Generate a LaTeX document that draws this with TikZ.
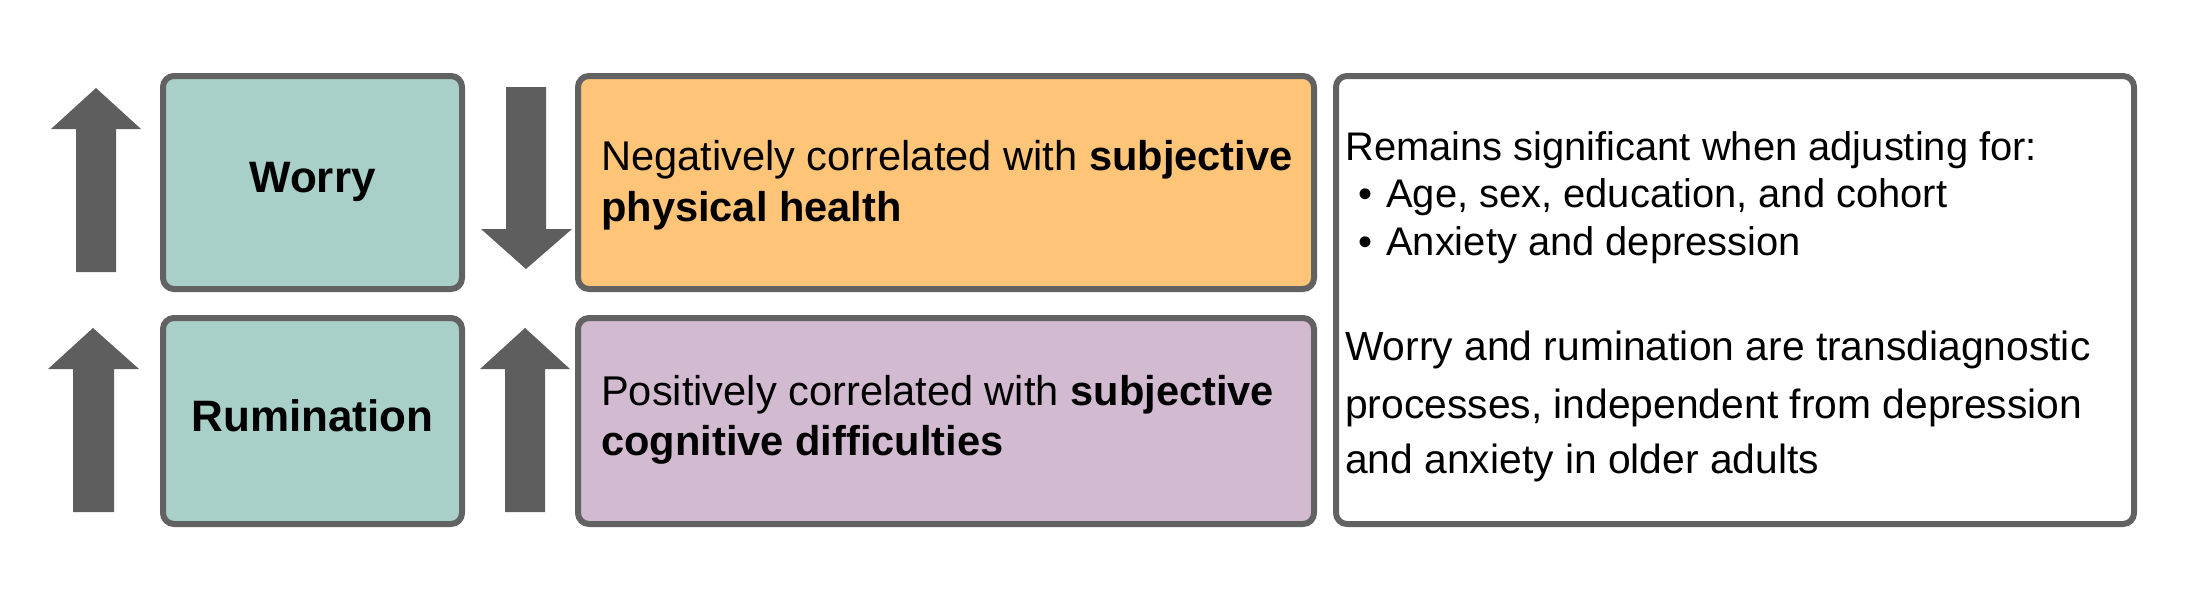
\documentclass[tikz,border=0pt]{standalone}
\usepackage{fontspec}
\setmainfont{Liberation Sans}
\definecolor{teal1}{HTML}{A8D0C8}
\definecolor{orange1}{HTML}{FEC477}
\definecolor{purple1}{HTML}{D2BBD0}
\definecolor{edge1}{HTML}{626262}
\definecolor{arrow1}{HTML}{5E5E5E}
\tikzset{
  card/.style={draw=edge1, line width=6pt, rounded corners=11pt, inner sep=0pt},
  label/.style={font=\fontsize{44}{50}\selectfont\bfseries, inner sep=0pt},
  txt/.style={font=\fontsize{39.9}{48}\selectfont, inner sep=0pt, anchor=base west},
  txtb/.style={font=\fontsize{40.8}{48}\selectfont, inner sep=0pt, anchor=base west},
  ltxt/.style={font=\fontsize{41.6}{48}\selectfont, inner sep=0pt, anchor=base west},
  bigarrow/.style={fill=arrow1, draw=none},
}
\begin{document}
\begin{tikzpicture}[x=1pt,y=-1pt]
\useasboundingbox (0,0) rectangle (2211,600);
% boxes
\node[card, fill=teal1, minimum width=299pt, minimum height=213pt] (worry) at (312.5,182.5) {};
\node[card, fill=teal1, minimum width=299pt, minimum height=206pt] (rum) at (312.5,421) {};
\node[card, fill=orange1, minimum width=736pt, minimum height=213pt] (neg) at (946,182.5) {};
\node[card, fill=purple1, minimum width=736pt, minimum height=206pt] (pos) at (946,421) {};
\node[card, fill=white, minimum width=798pt, minimum height=448pt] (note) at (1735,300) {};
% labels
\node[label] (worrylbl) at (312.5,182) {Worry};
\node[label] (rumlbl) at (312.5,416) {Rumination};
\node[ltxt] (neg1) at (601,170) {Negatively correlated with \textbf{subjective}};
\node[ltxt] (neg2) at (601,221) {\textbf{physical health}};
\node[ltxt] (pos1) at (601,405) {Positively correlated with \textbf{subjective}};
\node[ltxt] (pos2) at (601,455) {\textbf{cognitive difficulties}};
\node[txt] (n1) at (1345,160) {Remains significant when adjusting for:};
\node[txt] (n2) at (1386,207) {Age, sex, education, and cohort};
\node[txt] (n3) at (1386,255) {Anxiety and depression};
\node[txt, anchor=base] (b2) at (1365,207) {\textbullet};
\node[txt, anchor=base] (b3) at (1365,255) {\textbullet};
\node[txtb] (n4) at (1345,360) {Worry and rumination are transdiagnostic};
\node[txtb] (n5) at (1345,418) {processes, independent from depression};
\node[txtb] (n6) at (1345,473) {and anxiety in older adults};
% arrows
\fill[bigarrow] (96,88) -- (141,129) -- (116,129) -- (116,272) -- (76,272) -- (76,129) -- (51,129) -- cycle;
\fill[bigarrow] (93,328) -- (139,369) -- (114,369) -- (114,512) -- (73,512) -- (73,369) -- (48,369) -- cycle;
\fill[bigarrow] (526,269) -- (572,229) -- (546,229) -- (546,87) -- (506,87) -- (506,229) -- (481,229) -- cycle;
\fill[bigarrow] (525,328) -- (570,369) -- (545,369) -- (545,512) -- (505,512) -- (505,369) -- (480,369) -- cycle;
\end{tikzpicture}
\end{document}
